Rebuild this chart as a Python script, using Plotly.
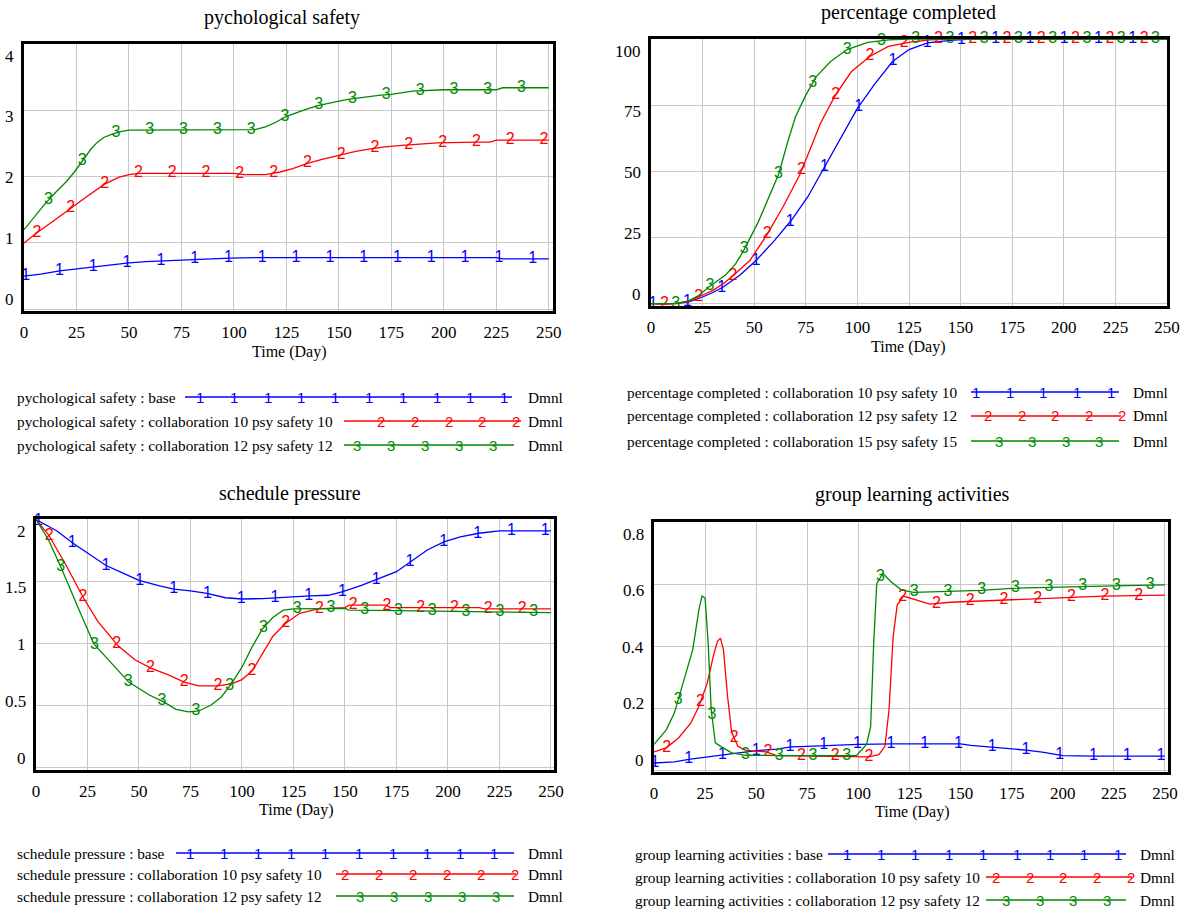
import numpy as np
import plotly.graph_objects as go

W, H = 1184, 916
SERIF = "Liberation Serif"
SANS = "Liberation Sans"
BLUE, RED, GREEN = "#0000ff", "#ff0000", "#008800"

# ---------------- data ----------------
# Panel 1: pychological safety
ps_t1 = [0, 8, 17, 25, 33, 42, 50, 58, 66, 75, 82, 98, 113, 225, 228, 250]
ps_v1 = [0.50, 0.53, 0.58, 0.61, 0.64, 0.67, 0.70, 0.72, 0.73, 0.75, 0.76, 0.77, 0.78, 0.78, 0.76, 0.76]
ps_t2 = [0, 6, 14, 22, 30, 38, 45, 50, 55, 100, 105, 115, 122, 128, 135, 142, 150, 158, 165, 172, 180, 190, 197, 215, 222, 225, 250]
ps_v2 = [1.00, 1.15, 1.33, 1.52, 1.70, 1.88, 1.99, 2.03, 2.05, 2.05, 2.03, 2.03, 2.07, 2.12, 2.20, 2.26, 2.32, 2.38, 2.42, 2.45, 2.47, 2.50, 2.51, 2.52, 2.52, 2.55, 2.55]
ps_t3 = [0, 5, 10, 15, 20, 24, 28, 32, 35, 38, 42, 46, 50, 110, 115, 120, 125, 130, 135, 140, 145, 150, 155, 162, 170, 175, 185, 200, 225, 228, 250]
ps_v3 = [1.20, 1.40, 1.59, 1.76, 1.92, 2.07, 2.25, 2.42, 2.52, 2.59, 2.64, 2.68, 2.70, 2.71, 2.75, 2.82, 2.91, 2.97, 3.02, 3.07, 3.11, 3.14, 3.17, 3.20, 3.23, 3.24, 3.29, 3.31, 3.31, 3.34, 3.34]

# Panel 2: percentage completed
pc_t1 = [0, 10, 18, 25, 30, 35, 43, 51, 60, 68, 76, 84, 92, 100, 108, 117, 125, 134, 145, 155, 250]
pc_v1 = [0, 0, 0.6, 2.5, 4.2, 6.3, 10.7, 16.4, 24, 31.5, 40.4, 51.7, 63, 73.8, 82.6, 91.5, 96, 98.5, 99.5, 100, 100]
pc_t2 = [0, 6, 12, 18, 23, 30, 35, 40, 48, 56, 64, 72, 78, 82, 89, 97, 106, 115, 125, 135, 145, 250]
pc_v2 = [0, -0.3, 0, 0.8, 2.5, 5, 7.5, 10.7, 16.4, 25.8, 36.6, 48.6, 60, 68, 78.3, 87.6, 93.4, 97.2, 98.7, 99.7, 100, 100]
pc_t3 = [0, 12, 18, 23, 28, 32, 36, 41, 45, 52, 58, 62, 66, 70, 75, 80, 87, 95, 105, 115, 125, 250]
pc_v3 = [0, 0, 1, 3, 6.3, 8.5, 10.7, 15, 20.2, 30.9, 41.6, 49.2, 60.5, 70.6, 78.8, 85.7, 91.5, 96, 98.7, 99.7, 100, 100]

# Panel 3: schedule pressure
sp_t1 = [0, 10, 18, 25, 34, 42, 50, 60, 67, 75, 83, 92, 100, 110, 116, 125, 133, 142, 149, 158, 166, 175, 181, 190, 198, 206, 215, 225, 250]
sp_v1 = [2.0, 1.91, 1.81, 1.73, 1.63, 1.57, 1.51, 1.465, 1.44, 1.425, 1.405, 1.37, 1.36, 1.363, 1.37, 1.38, 1.385, 1.39, 1.42, 1.47, 1.52, 1.58, 1.65, 1.755, 1.82, 1.86, 1.89, 1.91, 1.91]
sp_t2 = [0, 6, 14, 23, 30, 40, 48, 56, 64, 72, 79, 88, 95, 100, 105, 110, 115, 121, 128, 137, 150, 152, 170, 172, 215, 218, 250]
sp_v2 = [2.0, 1.88, 1.65, 1.37, 1.18, 0.98, 0.87, 0.80, 0.75, 0.69, 0.66, 0.66, 0.675, 0.71, 0.78, 0.92, 1.06, 1.16, 1.245, 1.28, 1.29, 1.31, 1.31, 1.29, 1.29, 1.28, 1.28]
sp_t3 = [0, 6, 12, 18, 23, 28, 35, 45, 55, 62, 68, 74, 79, 85, 90, 95, 100, 105, 110, 115, 120, 125, 150, 152, 175, 200, 212, 250]
sp_v3 = [2.0, 1.84, 1.62, 1.38, 1.19, 1.00, 0.87, 0.69, 0.586, 0.53, 0.47, 0.45, 0.457, 0.505, 0.57, 0.68, 0.81, 0.976, 1.12, 1.21, 1.27, 1.28, 1.285, 1.27, 1.266, 1.26, 1.258, 1.25]

# Panel 4: group learning activities
gl_t1 = [0, 10, 17, 25, 34, 42, 50, 60, 67, 75, 84, 100, 117, 150, 155, 165, 175, 183, 190, 200, 215, 250]
gl_v1 = [0.023, 0.027, 0.035, 0.042, 0.049, 0.058, 0.063, 0.068, 0.075, 0.077, 0.08, 0.083, 0.085, 0.085, 0.08, 0.075, 0.07, 0.064, 0.058, 0.047, 0.045, 0.045]
gl_t2 = [0, 6, 12, 18, 22, 26, 29, 31, 32.5, 34, 36, 38, 41, 45, 55, 60, 105, 110, 113, 115, 117, 119, 122, 128, 135, 145, 160, 175, 200, 220, 250]
gl_v2 = [0.059, 0.072, 0.104, 0.152, 0.206, 0.28, 0.367, 0.415, 0.426, 0.388, 0.238, 0.122, 0.077, 0.064, 0.059, 0.047, 0.043, 0.05, 0.077, 0.195, 0.43, 0.533, 0.562, 0.549, 0.536, 0.542, 0.546, 0.55, 0.558, 0.562, 0.565]
gl_t3 = [0, 6, 10, 15, 19, 22, 23.5, 25, 26.5, 28, 30, 33, 38, 45, 60, 99, 104, 106, 107.5, 109, 112, 116, 121, 127, 145, 160, 175, 200, 225, 250]
gl_v3 = [0.083, 0.13, 0.185, 0.30, 0.39, 0.52, 0.562, 0.555, 0.41, 0.195, 0.088, 0.075, 0.056, 0.048, 0.047, 0.047, 0.083, 0.14, 0.41, 0.603, 0.635, 0.608, 0.582, 0.574, 0.576, 0.58, 0.587, 0.592, 0.595, 0.598]

x_ticks = [0, 25, 50, 75, 100, 125, 150, 175, 200, 225, 250]
ps_ticks = [0, 1, 2, 3, 4]
pc_ticks = [0, 25, 50, 75, 100]
sp_ticks = [0, 0.5, 1, 1.5, 2]
gl_ticks = [0, 0.2, 0.4, 0.6, 0.8]
ps_tick_labels = ["0", "1", "2", "3", "4"]
pc_tick_labels = ["0", "25", "50", "75", "100"]
sp_tick_labels = ["0", "0.5", "1", "1.5", "2"]
gl_tick_labels = ["0", "0.2", "0.4", "0.6", "0.8"]

titles = ["pychological safety", "percentage completed", "schedule pressure", "group learning activities"]
legend_ps = ["pychological safety : base",
             "pychological safety : collaboration 10 psy safety 10",
             "pychological safety : collaboration 12 psy safety 12"]
legend_pc = ["percentage completed : collaboration 10 psy safety 10",
             "percentage completed : collaboration 12 psy safety 12",
             "percentage completed : collaboration 15 psy safety 15"]
legend_sp = ["schedule pressure : base",
             "schedule pressure : collaboration 10 psy safety 10",
             "schedule pressure : collaboration 12 psy safety 12"]
legend_gl = ["group learning activities : base",
             "group learning activities : collaboration 10 psy safety 10",
             "group learning activities : collaboration 12 psy safety 12"]
unit = "Dmnl"
x_title = "Time (Day)"

# ---------------- layout helpers ----------------
colors = [BLUE, RED, GREEN]
nums = ["1", "2", "3"]

panels = [
    dict(box=(24, 553, 44, 311), xr=[0, 252], yr=[-0.026, 4.0], ticks=ps_ticks, labels=ps_tick_labels,
         series=[(ps_t1, ps_v1), (ps_t2, ps_v2), (ps_t3, ps_v3)], mstart=[0.8, 6.2, 11.6], mstep=16.1,
         title=(282, 18), xt=(289, 352)),
    dict(box=(651, 1167, 39, 306), xr=[0, 250], yr=[-0.9, 100], ticks=pc_ticks, labels=pc_tick_labels,
         series=[(pc_t1, pc_v1), (pc_t2, pc_v2), (pc_t3, pc_v3)], mstart=[1, 6.5, 12], mstep=16.6,
         title=(908, 12), xt=(908, 347)),
    dict(box=(36, 554, 519, 770), xr=[0, 251.5], yr=[-0.019, 2.005], ticks=sp_ticks, labels=sp_tick_labels,
         series=[(sp_t1, sp_v1), (sp_t2, sp_v2), (sp_t3, sp_v3)], mstart=[1.2, 6.4, 12], mstep=16.4,
         title=(290, 493), xt=(296, 810)),
    dict(box=(654, 1168, 522, 772), xr=[0, 251.5], yr=[-0.006, 0.801], ticks=gl_ticks, labels=gl_tick_labels,
         series=[(gl_t1, gl_v1), (gl_t2, gl_v2), (gl_t3, gl_v3)], mstart=[0.5, 6.2, 11.8], mstep=16.5,
         title=(912, 495), xt=(912, 812)),
]


def pxx(px):
    return px / W


def pxy(py):
    return 1 - py / H


def ann(text, px, py, size, anchor="left", color="black", family=SERIF):
    return dict(text=text, x=pxx(px), y=pxy(py), xref="paper", yref="paper",
                xanchor=anchor, yanchor="middle", showarrow=False, borderpad=0,
                font=dict(family=family, size=size, color=color))


fig = go.Figure()
annotations = []
shapes = []
layout = dict(template="none", width=W, height=H,
              margin=dict(l=0, r=0, t=0, b=0, pad=0, autoexpand=False),
              paper_bgcolor="white", plot_bgcolor="white", showlegend=False)

for i, p in enumerate(panels, start=1):
    x0, x1, y0, y1 = p["box"]
    xa = "xaxis" if i == 1 else f"xaxis{i}"
    ya = "yaxis" if i == 1 else f"yaxis{i}"
    xr = "x" if i == 1 else f"x{i}"
    yr = "y" if i == 1 else f"y{i}"
    layout[xa] = dict(domain=[pxx(x0), pxx(x1)], anchor=yr, range=p["xr"], tickvals=x_ticks,
                      showgrid=True, gridcolor="#c8c8c8", gridwidth=1, zeroline=False,
                      showline=True, mirror=True, linecolor="black", linewidth=2.5,
                      ticks="", ticklabelstandoff=4, automargin=False,
                      tickfont=dict(family=SERIF, size=17, color="black"))
    layout[ya] = dict(domain=[pxy(y1), pxy(y0)], anchor=xr, range=p["yr"], tickvals=p["ticks"],
                      showgrid=True, gridcolor="#c8c8c8", gridwidth=1, zeroline=False,
                      showline=True, mirror=True, linecolor="black", linewidth=2.5,
                      ticks="", showticklabels=False, automargin=False)
    for k, (t, v) in enumerate(p["series"]):
        fig.add_trace(go.Scatter(x=t, y=v, mode="lines", xaxis=xr, yaxis=yr,
                                 line=dict(color=colors[k], width=1.3), hoverinfo="skip"))
        mt = np.arange(p["mstart"][k], 250.5, p["mstep"])
        fig.add_trace(go.Scatter(x=mt, y=np.interp(mt, t, v), mode="text", xaxis=xr, yaxis=yr,
                                 text=[nums[k]] * len(mt), textposition="middle center",
                                 textfont=dict(family=SANS, size=16, color=colors[k]),
                                 cliponaxis=False, hoverinfo="skip"))
    # y tick labels (Vensim style, spread inside the box)
    n = len(p["labels"])
    h = y1 - y0
    for j, lab in enumerate(p["labels"]):
        py = y1 - 12 - j * (h - 24) / (n - 1)
        annotations.append(ann(lab, x0 - 9, py, 17, anchor="right"))
    # title and x title
    annotations.append(ann(titles[i - 1], p["title"][0], p["title"][1], 20, anchor="center"))
    annotations.append(ann(x_title, p["xt"][0], p["xt"][1], 16, anchor="center"))


def legend_row(text, tx, py, lx0, lx1, mx0, mstep, mcount, k, dx):
    annotations.append(ann(text, tx, py, 15.3))
    shapes.append(dict(type="line", xref="paper", yref="paper", x0=pxx(lx0), x1=pxx(lx1),
                       y0=pxy(py), y1=pxy(py), line=dict(color=colors[k], width=1.3)))
    for m in range(mcount):
        annotations.append(ann(nums[k], mx0 + m * mstep, py, 15, anchor="center",
                               color=colors[k], family=SANS))
    annotations.append(ann(unit, dx, py, 15.3))


# panel 1 legend
legend_row(legend_ps[0], 16, 397, 185, 512, 200, 33.8, 10, 0, 527)
legend_row(legend_ps[1], 16, 421, 344, 521, 381, 33.8, 5, 1, 527)
legend_row(legend_ps[2], 16, 445, 344, 514, 357, 34.0, 5, 2, 527)
# panel 2 legend
legend_row(legend_pc[0], 626, 392, 971, 1119, 976, 33.7, 5, 0, 1132)
legend_row(legend_pc[1], 626, 416, 971, 1121, 988, 33.5, 5, 1, 1132)
legend_row(legend_pc[2], 626, 441, 971, 1119, 999, 33.4, 4, 2, 1132)
# panel 3 legend
legend_row(legend_sp[0], 16, 853, 176, 514, 190, 33.8, 10, 0, 527)
legend_row(legend_sp[1], 16, 874, 336, 516, 345, 34.0, 6, 1, 527)
legend_row(legend_sp[2], 16, 896, 336, 514, 360, 34.0, 5, 2, 527)
# panel 4 legend
legend_row(legend_gl[0], 634, 854, 828, 1126, 847, 33.9, 9, 0, 1139)
legend_row(legend_gl[1], 634, 877, 986, 1132, 996, 33.7, 5, 1, 1139)
legend_row(legend_gl[2], 634, 900, 986, 1126, 1006, 33.7, 4, 2, 1139)

layout["annotations"] = annotations
layout["shapes"] = shapes
fig.update_layout(**layout)
fig.write_html("out.html", config={"displayModeBar": False},
               post_script="document.body.style.margin='0px';document.body.style.overflow='hidden';")
